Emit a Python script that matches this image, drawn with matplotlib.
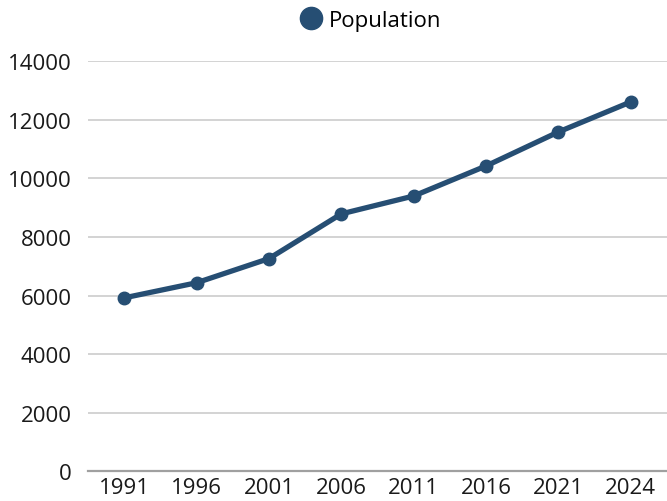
import matplotlib
matplotlib.use("Agg")
import matplotlib.pyplot as plt
from matplotlib.lines import Line2D

years = ["1991", "1996", "2001", "2006", "2011", "2016", "2021", "2024"]
population = [5920, 6435, 7260, 8785, 9395, 10420, 11580, 12605]
y_ticks = [0, 2000, 4000, 6000, 8000, 10000, 12000, 14000]

color = "#264e73"
plt.rcParams["font.family"] = ["Open Sans", "DejaVu Sans"]

fig = plt.figure(figsize=(6.67, 5.02), dpi=100)
ax = fig.add_axes([0.132, 0.059, 0.868, 0.8175])

x = list(range(len(years)))
ax.plot(x, population, color=color, linewidth=3.8, marker="o", markersize=9,
        solid_capstyle="round", zorder=3)

ax.set_xlim(-0.5, len(years) - 0.5)
ax.set_ylim(0, 14000)
ax.set_yticks(y_ticks)
ax.set_yticklabels([str(v) for v in y_ticks])
ax.set_xticks(x)
ax.set_xticklabels(years)

ax.grid(axis="y", color="#cccccc", linewidth=1.2, zorder=0)
for s in ["top", "right", "left"]:
    ax.spines[s].set_visible(False)
ax.spines["bottom"].set_color("#a0a0a0")
ax.spines["bottom"].set_linewidth(1.6)
ax.spines["bottom"].set_zorder(2)
ax.tick_params(axis="both", length=0, labelsize=16, colors="#1a1a1a")
ax.tick_params(axis="y", pad=12)
ax.tick_params(axis="x", pad=4)

handle = Line2D([], [], color=color, marker="o", linestyle="none", markersize=16)
fig.legend([handle], ["Population"], loc="center", bbox_to_anchor=(0.555, 0.958),
           frameon=False, fontsize=16, handletextpad=0.3, handlelength=1.0)

fig.savefig("out.png", dpi=100)
